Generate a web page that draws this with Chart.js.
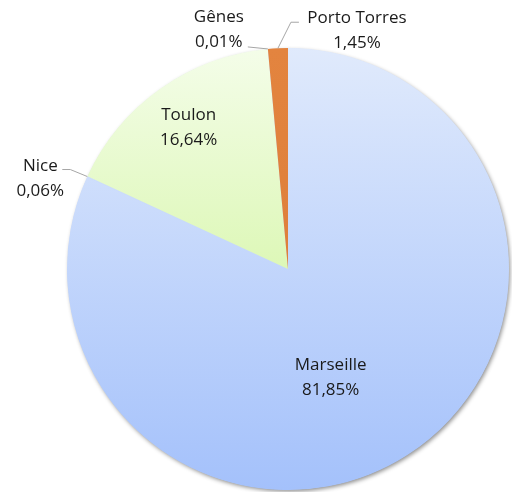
<!DOCTYPE html>
<html>
<head>
<meta charset="utf-8">
<script src="https://cdn.jsdelivr.net/npm/chart.js@4/dist/chart.umd.min.js"></script>
<style>
  html, body { margin: 0; padding: 0; background: #fff; }
  #wrap { width: 512px; height: 492px; }
</style>
</head>
<body>
<div id="wrap"><canvas id="canvas"></canvas></div>
<script>
const ports = ['Marseille', 'Nice', 'Toulon', 'Gênes', 'Porto Torres']
const shares = [81.85, 0.06, 16.64, 0.01, 1.45]
const topColors = ['#e0eafc', '#e0eafc', '#f4fde9', '#f4fde9', '#e3843f']
const bottomColors = ['#a4c1fb', '#a4c1fb', '#c6f285', '#c6f285', '#d97a35']

// label placement per slice, relative to the arc geometry
const labelSpecs = [
  { mode: 'in', r: 0.5, dx: -17, dy: 16 },
  { mode: 'out', line: [[-17, -7], [-25, -7]], text: [-47, 2] },
  { mode: 'in', r: 0.78, dx: 0, dy: 0 },
  { mode: 'out', line: [[-20, -2]], text: [-49, -19] },
  { mode: 'out', line: [[13, -26], [21, -26]], text: [79, -18] },
]

const fmt = (v) => v.toFixed(2).replace('.', ',') + '%'

const gradient = (ctx) => {
  const area = ctx.chart.chartArea
  if (!area) return topColors[ctx.dataIndex]
  const g = ctx.chart.ctx.createLinearGradient(0, area.top, 0, area.bottom)
  g.addColorStop(0, topColors[ctx.dataIndex])
  g.addColorStop(1, bottomColors[ctx.dataIndex])
  return g
}

const shadowPlugin = {
  id: 'shadow',
  beforeDatasetsDraw(chart) {
    const arc = chart.getDatasetMeta(0).data[0]
    if (!arc) return
    const c = chart.ctx
    c.save()
    c.shadowColor = 'rgba(0,0,0,0.45)'
    c.shadowBlur = 4
    c.shadowOffsetX = 1.5
    c.shadowOffsetY = 2
    c.fillStyle = '#c5d7fb'
    c.beginPath()
    c.arc(arc.x, arc.y, arc.outerRadius - 0.5, 0, Math.PI * 2)
    c.fill()
    c.restore()
  },
}

const labelPlugin = {
  id: 'pieLabels',
  afterDatasetsDraw(chart) {
    const c = chart.ctx
    const arcs = chart.getDatasetMeta(0).data
    c.save()
    c.font = '17px "Open Sans", sans-serif'
    c.fillStyle = '#1a1a1a'
    c.textAlign = 'center'
    c.textBaseline = 'middle'
    arcs.forEach((arc, i) => {
      const spec = labelSpecs[i]
      const mid = (arc.startAngle + arc.endAngle) / 2
      let tx, ty
      if (spec.mode === 'in') {
        tx = arc.x + Math.cos(mid) * arc.outerRadius * spec.r + spec.dx
        ty = arc.y + Math.sin(mid) * arc.outerRadius * spec.r + spec.dy
      } else {
        const ex = arc.x + Math.cos(mid) * arc.outerRadius
        const ey = arc.y + Math.sin(mid) * arc.outerRadius
        c.strokeStyle = '#a6a6a6'
        c.lineWidth = 1
        c.beginPath()
        c.moveTo(ex, ey)
        spec.line.forEach((p) => c.lineTo(ex + p[0], ey + p[1]))
        c.stroke()
        tx = ex + spec.text[0]
        ty = ey + spec.text[1]
      }
      c.fillText(ports[i], tx, ty - 12.5)
      c.fillText(fmt(shares[i]), tx, ty + 12.5)
    })
    c.restore()
  },
}

const canvas = document.getElementById('canvas')
const chart = new Chart(canvas, {
  type: 'pie',
  data: {
    labels: ports,
    datasets: [
      {
        data: shares,
        backgroundColor: gradient,
        borderWidth: 0,
      },
    ],
  },
  options: {
    responsive: true,
    maintainAspectRatio: false,
    animation: false,
    layout: { padding: { left: 67, right: 3, top: 48, bottom: 2 } },
    plugins: {
      legend: { display: false },
      tooltip: { enabled: false },
    },
  },
  plugins: [shadowPlugin, labelPlugin],
})
</script>
</body>
</html>
